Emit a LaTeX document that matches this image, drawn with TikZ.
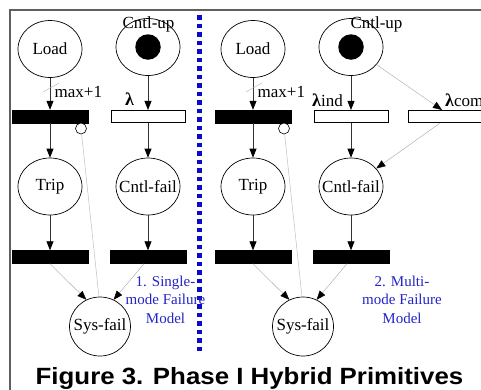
\documentclass[tikz,border=0pt]{standalone}
\usepackage{fontspec}
\setmainfont{Liberation Serif}
\newfontfamily\captionfont[FakeStretch=1.1]{Liberation Sans}
\usetikzlibrary{shapes.geometric,arrows.meta}
\definecolor{noteblue}{RGB}{35,35,200}
\definecolor{sepblue}{RGB}{10,10,205}
\definecolor{framegray}{RGB}{95,95,95}
\newcommand{\lamb}{{\fontsize{18}{18}\selectfont\bfseries λ}}

\begin{document}
\begin{tikzpicture}[x=1pt,y=1pt,yscale=-1,xscale=1,
    place/.style={ellipse, draw, line width=0.7, minimum width=64, minimum height=57, inner sep=0pt,
        label={[font=\fontsize{17}{17}\selectfont, inner sep=0pt]center:#1}},
    place/.default={},
    sysplace/.style={place=#1, minimum width=61, minimum height=59},
    token/.style={circle, fill=black, minimum size=25.5, inner sep=0pt},
    blackbar/.style={rectangle, draw, fill=black, minimum width=76, minimum height=13, inner sep=0pt},
    whitebar/.style={rectangle, draw, line width=0.6, fill=white, minimum width=74, minimum height=12.5, inner sep=0pt},
    inhib/.style={circle, draw, line width=0.6, fill=white, minimum size=11, inner sep=0pt},
    tag/.style={font=\fontsize{17}{17}\selectfont, inner sep=0.5pt},
    note/.style={font=\fontsize{15}{18.5}\selectfont, text=noteblue, align=center, inner sep=0pt},
    arc/.style={draw=black!80, line width=0.8, -{Triangle[length=9pt,width=7pt,color=black]}},
    thinarc/.style={draw=black!35, line width=0.4, -{Triangle[length=9pt,width=7pt,color=black]}},
    inhibline/.style={draw=black!25, line width=0.5},
    slash/.style={draw=black!30, line width=0.4}]
        \useasboundingbox (0,0) rectangle (481,389);
        \clip (0,0) rectangle (481,389);

        %Shape: Frame
        \draw [framegray, line width=1.4] (10,400) -- (10,10) -- (490,10) ;
        %Straight Lines: separator
        \draw [sepblue, line width=5, dash pattern=on 4.5 off 4] (199.5,15) -- (199.5,353) ;

        % ---- 1. single-mode ----
        %Shape: Places
        \node [place=Load] (load1) at (50,49) {};
        \node [place] (cup1) at (148,47) {};
        \node [token] (tok1) at (cup1.center) {};
        \node [place=Trip] (trip1) at (50,186.5) {};
        \node [place=Cntl-fail] (cfail1) at (148,186.5) {};
        \node [sysplace=Sys-fail] (sys1) at (100,326.5) {};
        %Shape: Transitions
        \node [blackbar] (t1) at (50,116.5) {};
        \node [whitebar] (t2) at (148,116.5) {};
        \node [blackbar] (t3) at (50,257) {};
        \node [blackbar] (t4) at (148,257) {};
        \node [inhib] (inh1) at (81,128.5) {};
        %Straight Lines
        \draw [arc] (load1) -- (t1) ;
        \draw [arc] (t1) -- (trip1) ;
        \draw [arc] (trip1) -- (t3) ;
        \draw [arc] (cup1) -- (t2) ;
        \draw [arc] (t2) -- (cfail1) ;
        \draw [arc] (cfail1) -- (t4) ;
        \draw [thinarc] (t3.south) -- (sys1.117) ;
        \draw [thinarc] ([xshift=-4]t4.south) -- (sys1.63) ;
        \draw [inhibline] (inh1) -- (sys1.92) ;
        \draw [slash] (43,92) -- (59,83) ;
        % Text Node
        \node [tag, anchor=base] (cuplab1) at (148.5,28) {Cntl-up};
        % Text Node
        \node [tag, anchor=base west, inner sep=0pt] (mult1) at (54.5,97) {max+1};
        % Text Node
        \node [tag, anchor=base, inner sep=0pt] (rate1) at (129.5,105) {\lamb};
        % Text Node
        \node [note] (note1) at (165.5,299.5) {1. Single-\\mode Failure\\Model};

        % ---- 2. multi-mode ----
        %Shape: Places
        \node [place=Load] (load2) at (253,49) {};
        \node [place] (cup2) at (351,47) {};
        \node [token] (tok2) at (cup2.center) {};
        \node [place=Trip] (trip2) at (253,186.5) {};
        \node [place=Cntl-fail] (cfail2) at (351,186.5) {};
        \node [sysplace=Sys-fail] (sys2) at (303,326.5) {};
        %Shape: Transitions
        \node [blackbar] (t5) at (253,116.5) {};
        \node [whitebar] (t6) at (351,116.5) {};
        \node [whitebar] (t7) at (445,116.5) {};
        \node [blackbar] (t8) at (253,257) {};
        \node [blackbar] (t9) at (351,257) {};
        \node [inhib] (inh2) at (284,128.5) {};
        %Straight Lines
        \draw [arc] (load2) -- (t5) ;
        \draw [arc] (t5) -- (trip2) ;
        \draw [arc] (trip2) -- (t8) ;
        \draw [arc] (cup2) -- (t6) ;
        \draw [arc] (t6) -- (cfail2) ;
        \draw [arc] (cfail2) -- (t9) ;
        \draw [thinarc] (cup2) -- ([xshift=-3]t7.north) ;
        \draw [thinarc] ([xshift=-5]t7.south) -- (cfail2) ;
        \draw [thinarc] (t8.south) -- (sys2.117) ;
        \draw [thinarc] ([xshift=-4]t9.south) -- (sys2.63) ;
        \draw [inhibline] (inh2) -- (sys2.92) ;
        \draw [slash] (246,92) -- (262,83) ;
        % Text Node
        \node [tag, anchor=base] (cuplab2) at (376.5,28) {Cntl-up};
        % Text Node
        \node [tag, anchor=base west, inner sep=0pt] (mult2) at (257.5,97) {max+1};
        % Text Node
        \node [tag, anchor=base west, inner sep=0pt] (rate2) at (312,106) {\lamb ind};
        % Text Node
        \node [tag, anchor=base west, inner sep=0pt] (rate3) at (445,106) {\lamb com};
        % Text Node
        \node [note] (note2) at (402,299.5) {2. Multi-\\mode Failure\\Model};

        % Text Node: caption
        \node [anchor=base, inner sep=0pt] (cap) at (249.5,384) {\captionfont\bfseries\fontsize{23.5}{24}\selectfont Figure 3. Phase I Hybrid Primitives};
\end{tikzpicture}
\end{document}
